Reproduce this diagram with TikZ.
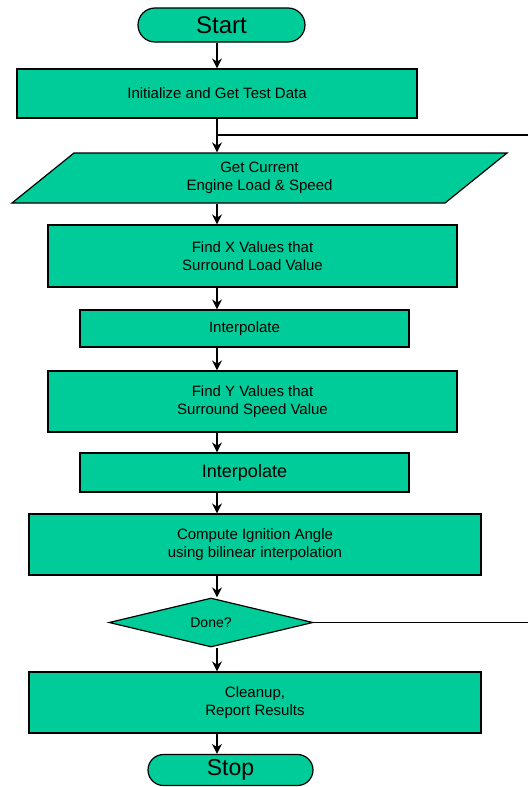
\documentclass[tikz,border=0pt]{standalone}
\usepackage{fontspec}
\setmainfont{Liberation Sans}
\usepackage{tikz}
\usetikzlibrary{arrows.meta, shapes.geometric, shapes.misc}
\definecolor{flowgreen}{RGB}{0,204,153}

\begin{document}
\begin{tikzpicture}[x=1pt, y=-1pt,
    >={Stealth[length=10pt,width=10pt]},
    box/.style={draw, line width=1.2pt, fill=flowgreen, inner sep=0pt, align=center,
                font=\fontsize{15}{18}\selectfont},
    term/.style={box, rounded rectangle, font=\fontsize{24}{26}\selectfont},
    flow/.style={->, line width=1.3pt}]
                    \useasboundingbox (0,0) rectangle (528,787);

                    \node[term, minimum width=167pt, minimum height=34pt] (a) at (221.5,25) {Start};
                    \node[box, minimum width=400pt, minimum height=49pt] (b) at (217,93.5) {Initialize and Get Test Data};
                    \node[box, trapezium, trapezium left angle=27, trapezium right angle=153,
                          trapezium stretches body, minimum width=495pt, minimum height=50pt] (c) at (259.5,178) {Get Current\\Engine Load \& Speed};
                    \node[box, minimum width=409pt, minimum height=62pt] (d) at (252.5,256) {Find X Values that\\Surround Load Value};
                    \node[box, minimum width=329pt, minimum height=37pt] (e) at (244.5,328.5) {Interpolate};
                    \node[box, minimum width=409pt, minimum height=61pt] (f) at (252.5,401.5) {Find Y Values that\\Surround Speed Value};
                    \node[box, minimum width=329pt, minimum height=39pt, font=\fontsize{18}{20}\selectfont] (g) at (244.5,472.5) {Interpolate};
                    \node[box, minimum width=452pt, minimum height=61pt] (h) at (255,544.5) {Compute Ignition Angle\\using bilinear interpolation};
                    \node[box, diamond, aspect=4.2, minimum width=204pt, minimum height=49pt,
                          font=\fontsize{14}{16}\selectfont] (i) at (211,622.5) {Done?};
                    \node[box, minimum width=452pt, minimum height=61pt] (j) at (255,702.5) {Cleanup,\\Report Results};
                    \node[term, minimum width=165pt, minimum height=31pt, font=\fontsize{23}{25}\selectfont] (k) at (230.5,770) {Stop};
                    \coordinate (ax) at (217,0);
                    \coordinate (r) at (528,135);
                    \coordinate (s) at (528,622.5);

                    \draw[flow] (a.south -| ax) -- (b.north -| ax);
                    \draw[flow] (b.south -| ax) -- (c.north -| ax);
                    \draw[flow] (c.south -| ax) -- (d.north -| ax);
                    \draw[flow] (d.south -| ax) -- (e.north -| ax);
                    \draw[flow] (e.south -| ax) -- (f.north -| ax);
                    \draw[flow] (f.south -| ax) -- (g.north -| ax);
                    \draw[flow] (g.south -| ax) -- (h.north -| ax);
                    \draw[flow] (h.south -| ax) -- (i.north -| ax);
                    \draw[flow] (i.south -| ax) -- (j.north -| ax);
                    \draw[flow] (j.south -| ax) -- (k.north -| ax);
                    \draw[line width=2pt] (r) -- (r -| ax);
                    \draw[line width=1.3pt] (i) -- (s);
                \end{tikzpicture}
\end{document}
